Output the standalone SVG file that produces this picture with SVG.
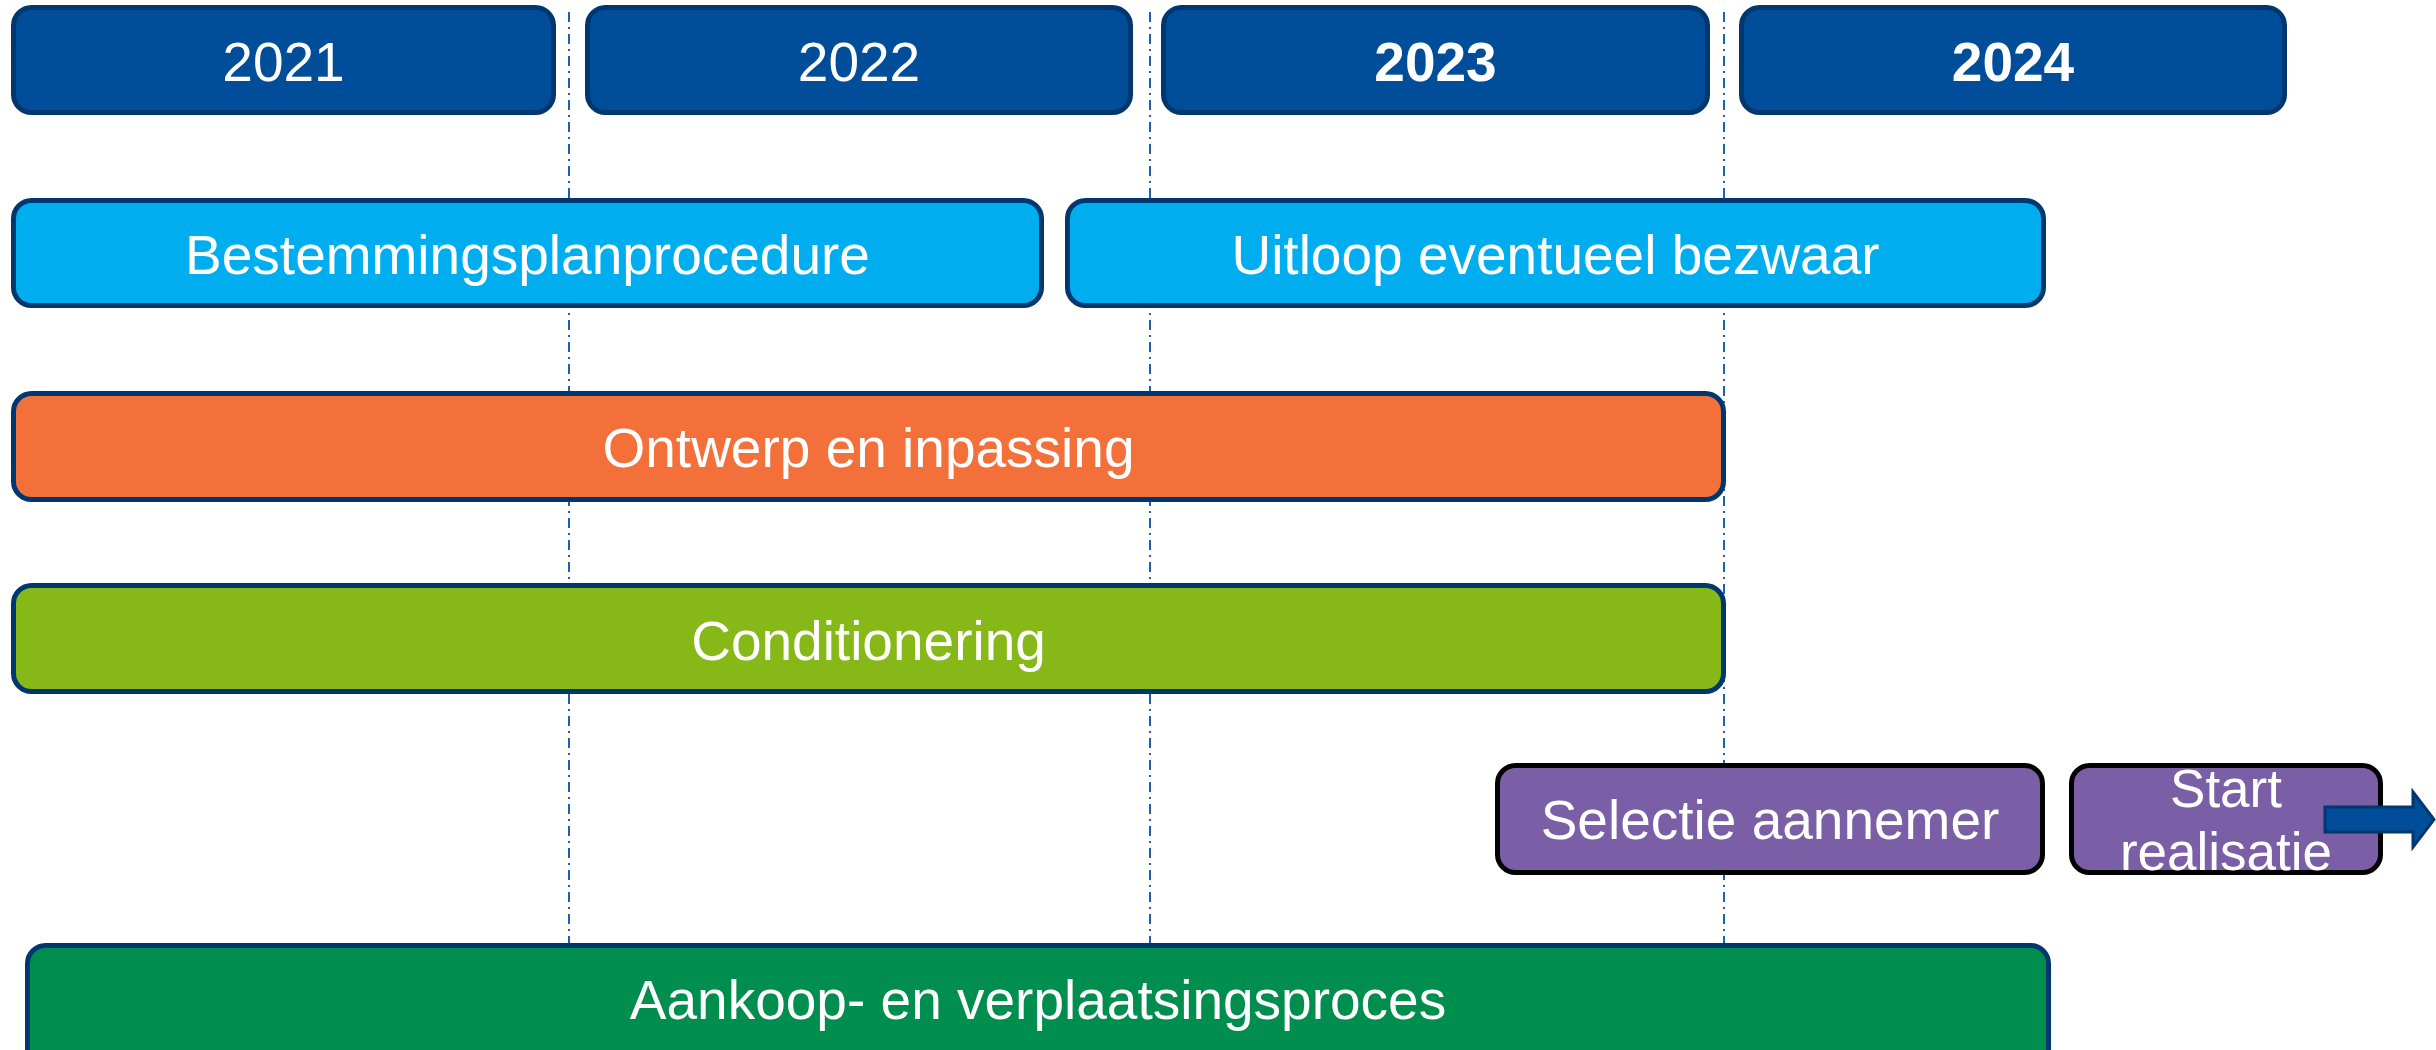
<svg xmlns="http://www.w3.org/2000/svg" width="2436" height="1050" viewBox="0 0 2436 1050">
<style>
.box{stroke:#00376f;stroke-width:5}
.year{fill:#004d99}
.lb{fill:#00aeef}
.or{fill:#f3703a}
.lg{fill:#86b817}
.pu{fill:#7a5ea6;stroke:#000;stroke-width:5}
.gr{fill:#008e4e}
text{font-family:"Liberation Sans",Arial,sans-serif;font-size:55px;fill:#fff;text-anchor:middle}
.b{font-weight:bold}
.grid{stroke:#1f5fb0;stroke-width:2;stroke-dasharray:10 5 2 5;fill:none}
</style>
<rect width="2436" height="1050" fill="#fff"/>
<g id="gridlines">
<line class="grid" x1="569" y1="12" x2="569" y2="943"/>
<line class="grid" x1="1150" y1="12" x2="1150" y2="943"/>
<line class="grid" x1="1724" y1="12" x2="1724" y2="943"/>
</g>
<g id="y2021"><rect class="box year" x="13.5" y="7.5" width="540" height="105" rx="18"/><text x="283.5" y="81">2021</text></g>
<g id="y2022"><rect class="box year" x="587.5" y="7.5" width="543" height="105" rx="18"/><text x="859" y="81">2022</text></g>
<g id="y2023"><rect class="box year" x="1163.5" y="7.5" width="544" height="105" rx="18"/><text class="b" x="1435.5" y="81">2023</text></g>
<g id="y2024"><rect class="box year" x="1741.5" y="7.5" width="543" height="105" rx="18"/><text class="b" x="2013" y="81">2024</text></g>
<g id="bestemmingsplan"><rect class="box lb" x="13.5" y="200.5" width="1028" height="105" rx="18"/><text x="527.5" y="274">Bestemmingsplanprocedure</text></g>
<g id="uitloop"><rect class="box lb" x="1067.5" y="200.5" width="976" height="105" rx="18"/><text x="1555.5" y="274">Uitloop eventueel bezwaar</text></g>
<g id="ontwerp"><rect class="box or" x="13.5" y="393.5" width="1710" height="106" rx="18"/><text x="868.5" y="467">Ontwerp en inpassing</text></g>
<g id="conditionering"><rect class="box lg" x="13.5" y="585.5" width="1710" height="106" rx="18"/><text x="868.5" y="660">Conditionering</text></g>
<g id="selectie"><rect class="pu" x="1497.5" y="765.5" width="545" height="107" rx="18"/><text x="1770" y="839">Selectie aannemer</text></g>
<g id="start"><rect class="pu" x="2071.5" y="765.5" width="309" height="107" rx="18"/><text x="2226" y="807" style="font-size:53px">Start</text><text x="2226" y="870" style="font-size:53px">realisatie</text></g>
<g id="aankoop"><rect class="box gr" x="27.5" y="945.5" width="2021" height="130" rx="18"/><text x="1038" y="1019">Aankoop- en verplaatsingsproces</text></g>
<g id="connectors">
<path d="M2325 807 H2413 V792 L2434 819.5 L2413 847 V832 H2325 Z" fill="#004d99" stroke="#00376f" stroke-width="3"/>
</g>
</svg>
